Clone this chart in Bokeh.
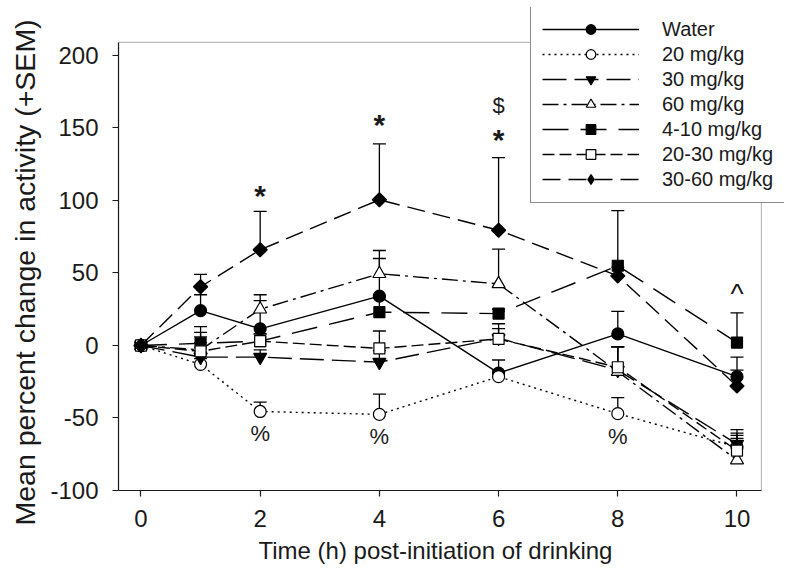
import math
from bokeh.plotting import figure
from bokeh.models import (Range1d, FixedTicker, Legend, LegendItem, ColumnDataSource,
                          Whisker, TeeHead, BoxAnnotation, Title)
from bokeh.core.properties import value
from bokeh.embed import file_html
from bokeh.resources import INLINE

# ---- data ----
hours = [0, 1, 2, 4, 6, 8, 10]
series_names = ["Water", "20 mg/kg", "30 mg/kg", "60 mg/kg", "4-10 mg/kg", "20-30 mg/kg", "30-60 mg/kg"]
water      = [0, 24, 11.5, 34, -19, 8, -21.5]
mg20       = [0, -13, -45.5, -47.5, -21.5, -47, -70]
mg30       = [0, -8, -8, -11.5, 5, -17, -68]
mg60       = [0, -3, 25, 49.5, 42.5, -18, -79]
mg4_10     = [0, 1.5, 3, 23, 22, 55, 2]
mg20_30    = [0, -4, 3, -2, 4.5, -15, -72.5]
mg30_60    = [0, 40.5, 66, 100.5, 79.5, 48, -28]

water_sem   = [0, 11, 19.5, 26, 9, 15.5, 13.5]
mg20_sem    = [0, 4, 6.5, 14, 4, 11, 6]
mg30_sem    = [0, 14, 5, 8, 6.7, 16, 6]
mg60_sem    = [0, 5, 10, 16, 24, 17, 21]
mg4_10_sem  = [0, 11.5, 5, 10, 3, 38, 20.5]
mg20_30_sem = [0, 13, 5, 12, 10.5, 14, 12]
mg30_60_sem = [0, 8.5, 26.5, 38.5, 50, 6, 11]

# significance annotations
annot_x    = [2, 4, 6, 6, 2, 4, 8, 10]
annot_y    = [103.5, 152.5, 142, 165.5, -61, -62.5, -63, 36]
annot_text = ["*", "*", "*", "$", "%", "%", "%", "^"]

x_ticks = [0, 2, 4, 6, 8, 10]
y_ticks = [-100, -50, 0, 50, 100, 150, 200]
x_box = (-0.377, 10.41)
y_box = (-100, 209)

# ---- styling per series ----
styles = [
    dict(marker="circle", size=12, fill="black", dash="solid"),
    dict(marker="circle", size=12, fill="white", dash="2 4"),
    dict(marker="inverted_triangle", size=13, fill="black", dash="24 8"),
    dict(marker="triangle", size=13, fill="white", dash="16 5 3 5"),
    dict(marker="square", size=11, fill="black", dash="26 12"),
    dict(marker="square", size=11, fill="white", dash="12 5"),
    dict(marker="diamond", size=13, fill="black", dash="18 8"),
]
values = [water, mg20, mg30, mg60, mg4_10, mg20_30, mg30_60]
sems = [water_sem, mg20_sem, mg30_sem, mg60_sem, mg4_10_sem, mg20_30_sem, mg30_60_sem]

FONT = "Liberation Sans"
INK = "#1a1a1a"

p = figure(width=784, height=572, output_backend="svg", toolbar_location=None,
           x_range=Range1d(-0.377, 10.797), y_range=Range1d(-100, 233.1),
           min_border_left=118, min_border_right=0, min_border_top=7, min_border_bottom=82)
p.xgrid.visible = False
p.ygrid.visible = False
p.outline_line_color = None
p.background_fill_color = "white"
p.border_fill_color = "white"

# axes box
p.add_layout(BoxAnnotation(left=x_box[0], right=x_box[1], bottom=y_box[0], top=y_box[1],
                           fill_alpha=0, line_color=INK, line_width=1.2))

for name, ys, es, st in zip(series_names, values, sems, styles):
    xs = [h for h, e in zip(hours, es) if e > 0]
    lo = [y for y, e in zip(ys, es) if e > 0]
    up = [y + e for y, e in zip(ys, es) if e > 0]
    wsrc = ColumnDataSource(dict(x=xs, lower=lo, upper=up))
    w = Whisker(source=wsrc, base="x", lower="lower", upper="upper",
                line_color="black", line_width=1.3,
                upper_head=TeeHead(size=13, line_color="black", line_width=1.3),
                lower_head=None)
    p.add_layout(w)

items = []
for name, ys, es, st in zip(series_names, values, sems, styles):
    src = ColumnDataSource(dict(x=hours, y=ys))
    lr = p.line("x", "y", source=src, line_color="black", line_width=1.4, line_dash=st["dash"])
    sr = p.scatter("x", "y", source=src, marker=st["marker"], size=st["size"],
                   fill_color=st["fill"], line_color="black", line_width=1.2)
    if st["marker"] == "diamond":
        # a wider diamond on top (rotated square), the plain diamond is kept for the legend key
        p.scatter("x", "y", source=src, marker="square", size=10, angle=math.pi / 4,
                  fill_color=st["fill"], line_color="black", line_width=1.2)
    items.append(LegendItem(label=name, renderers=[lr, sr]))

star_idx = [i for i, t in enumerate(annot_text) if t == "*"]
other_idx = [i for i, t in enumerate(annot_text) if t != "*"]
star_src = ColumnDataSource(dict(x=[annot_x[i] for i in star_idx], y=[annot_y[i] for i in star_idx],
                                  t=[annot_text[i] for i in star_idx]))
other_src = ColumnDataSource(dict(x=[annot_x[i] for i in other_idx], y=[annot_y[i] for i in other_idx],
                                   t=[annot_text[i] for i in other_idx],
                                   fs=["28px" if annot_text[i] == "^" else "22px" for i in other_idx]))
p.text("x", "y", text="t", source=star_src, text_align="center", text_baseline="middle",
       text_font=value(FONT), text_font_size="30px", text_font_style="bold", text_color=INK)
p.text("x", "y", text="t", source=other_src, text_align="center", text_baseline="middle",
       text_font=value(FONT), text_font_size="fs", text_color=INK)

legend = Legend(items=items, location=(412, 287))
legend.glyph_width = 97
legend.glyph_height = 24
legend.label_height = 24
legend.spacing = 1
legend.padding = 11
legend.margin = 0
legend.label_standoff = 23
legend.label_text_font = FONT
legend.label_text_font_size = "20px"
legend.label_text_color = INK
legend.border_line_color = INK
legend.border_line_width = 1.2
legend.background_fill_color = "white"
legend.background_fill_alpha = 1.0
p.add_layout(legend)

for ax in (p.xaxis[0], p.yaxis[0]):
    ax.axis_line_color = INK
    ax.axis_line_width = 1.2
    ax.major_tick_line_color = INK
    ax.major_tick_line_width = 1.2
    ax.major_tick_out = 6
    ax.major_tick_in = 0
    ax.minor_tick_line_color = None
    ax.major_label_text_font = FONT
    ax.major_label_text_font_size = "24px"
    ax.major_label_text_color = INK
p.xaxis.major_label_standoff = 13
p.yaxis.major_label_standoff = 14

p.xaxis.ticker = FixedTicker(ticks=x_ticks)
p.yaxis.ticker = FixedTicker(ticks=y_ticks)
p.yaxis.major_label_overrides = {t: str(t) for t in y_ticks}
p.xaxis.bounds = x_box
p.yaxis.bounds = y_box

xt = Title(text="Time (h) post-initiation of drinking", align="left", offset=140,
           vertical_align="top",
           text_font=FONT, text_font_size="24px", text_font_style="normal", text_color=INK,
           standoff=14)
p.add_layout(xt, "below")
yt = Title(text="Mean percent change in activity (+SEM)", align="left", offset=-35,
           vertical_align="middle",
           text_font=FONT, text_font_size="28.5px", text_font_style="normal", text_color=INK,
           standoff=12)
p.add_layout(yt, "left")

open("out.html", "w").write(file_html(p, INLINE))
